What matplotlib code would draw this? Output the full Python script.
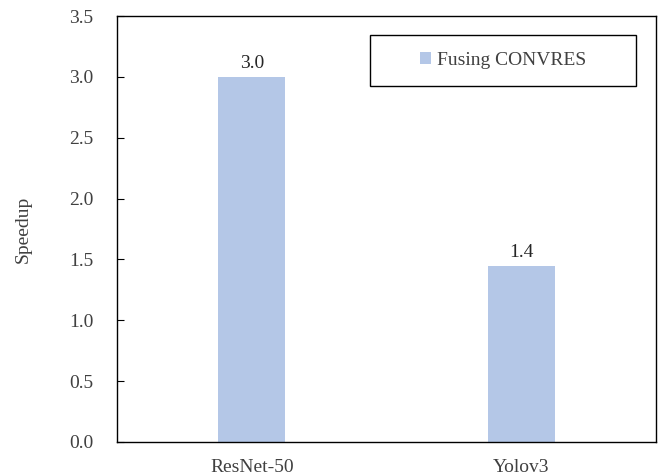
import matplotlib.pyplot as plt
from matplotlib.patches import Rectangle

models = ["ResNet-50", "Yolov3"]
speedup = [3.0, 1.45]
labels = ["3.0", "1.4"]

plt.rcParams['font.family'] = ['Liberation Serif', 'DejaVu Serif']

fig = plt.figure(figsize=(6.62, 4.75), dpi=100)
ax = fig.add_axes([0.1767, 0.0695, 0.8143, 0.8968])

x = range(len(models))
bars = ax.bar(x, speedup, width=0.25, color="#B4C7E7", label="Fusing CONVRES")
for b, t in zip(bars, labels):
    ax.text(b.get_x() + b.get_width() / 2, b.get_height() + 0.04, t,
            ha="center", va="bottom", fontsize=14, color="#262626")

ax.set_xlim(-0.5, 1.5)
ax.set_ylim(0, 3.5)
ax.set_xticks(list(x))
ax.set_xticklabels(models)
ax.set_yticks([0, 0.5, 1.0, 1.5, 2.0, 2.5, 3.0, 3.5])
ax.set_yticklabels(["%.1f" % v for v in ax.get_yticks()])
ax.tick_params(axis="y", direction="in", length=5, labelsize=14, labelcolor="#404040", pad=17)
ax.tick_params(axis="x", length=0, labelsize=14, labelcolor="#404040", pad=12)
for s in ax.spines.values():
    s.set_linewidth(1.0)
    s.set_color("black")
ax.set_ylabel("Speedup", fontsize=14, color="#404040", labelpad=26.5)

# legend box is wider than its content in the original
ax.add_patch(Rectangle((0.4694, 0.8357), 0.4935, 0.1197, transform=ax.transAxes,
                       fill=False, edgecolor="black", linewidth=1.0, zorder=5))
leg = ax.legend(loc="center", bbox_to_anchor=(0.7161, 0.8955), fontsize=14,
                frameon=False, handlelength=0.6, handleheight=0.6,
                handletextpad=0.3, borderpad=0, borderaxespad=0,
                labelcolor="#404040")

fig.savefig("out.png", dpi=100)
